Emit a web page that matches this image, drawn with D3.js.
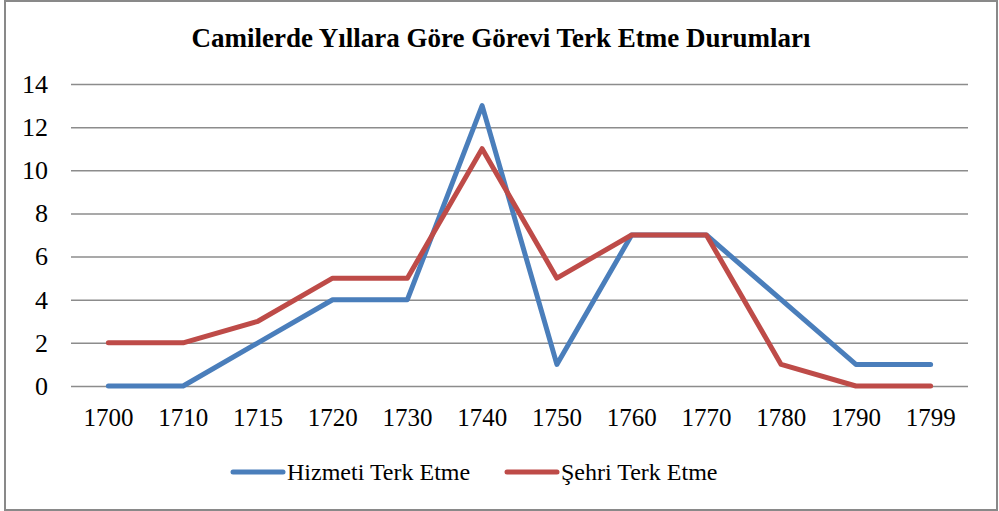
<!DOCTYPE html>
<html><head><meta charset="utf-8">
<script src="https://cdn.jsdelivr.net/npm/d3@7"></script>
<style>body{margin:0;background:#fff}svg{display:block}
svg text{font-family:"Liberation Serif","Times New Roman",Tinos,"DejaVu Serif",serif;}</style>
</head><body>
<svg id="c" width="999" height="511"></svg>
<script>
const title = "Camilerde Yıllara Göre Görevi Terk Etme Durumları";
const years = ["1700","1710","1715","1720","1730","1740","1750","1760","1770","1780","1790","1799"];
const seriesNames = ["Hizmeti Terk Etme","Şehri Terk Etme"];
const hizmeti = [0,0,2,4,4,13,1,7,7,4,1,1];
const sehri = [2,2,3,5,5,11,5,7,7,1,0,0];
const yTicks = [0,2,4,6,8,10,12,14];
const colors = ["#4A7EBB","#BE4B48"];

const svg = d3.select("#c");
svg.append("rect").attr("x",5).attr("y",1).attr("width",992).attr("height",509)
  .attr("fill","#fff").attr("stroke","#898989").attr("stroke-width",2);

const x = d3.scaleBand().domain(years).range([71,968]);
const y = d3.scaleLinear().domain([0,14]).range([386,84]);

svg.append("text").attr("x",501).attr("y",47).attr("text-anchor","middle")
  .attr("font-weight","bold").attr("font-size",27).text(title);

const yAxis = svg.append("g").attr("transform","translate(71,0)")
  .call(d3.axisLeft(y).tickValues(yTicks).tickSize(-897).tickPadding(23));
yAxis.attr("font-family",null);
yAxis.select(".domain").remove();
yAxis.selectAll("line").attr("stroke","#8c8c8c").attr("stroke-width",1.5);
yAxis.selectAll("text").attr("font-size",26).attr("fill","#000");

const xAxis = svg.append("g").attr("transform","translate(0,386)")
  .call(d3.axisBottom(x).tickSize(0).tickPadding(22));
xAxis.attr("font-family",null);
xAxis.select(".domain").remove();
xAxis.selectAll("text").attr("font-size",25).attr("fill","#000");

const line = d3.line().x((d,i)=>x(years[i])+x.bandwidth()/2).y(d=>y(d));
[hizmeti,sehri].forEach((s,k)=>{
  svg.append("path").datum(s).attr("d",line).attr("fill","none")
    .attr("stroke",colors[k]).attr("stroke-width",5).attr("stroke-linejoin","round").attr("stroke-linecap","round");
});

const legX = [233,507];
seriesNames.forEach((n,k)=>{
  svg.append("line").attr("x1",legX[k]).attr("x2",legX[k]+50).attr("y1",472).attr("y2",472)
    .attr("stroke",colors[k]).attr("stroke-width",5).attr("stroke-linecap","round");
  svg.append("text").attr("x",legX[k]+54).attr("y",480)
    .attr("font-size",24).attr("fill","#000").text(n);
});
</script>
</body></html>
